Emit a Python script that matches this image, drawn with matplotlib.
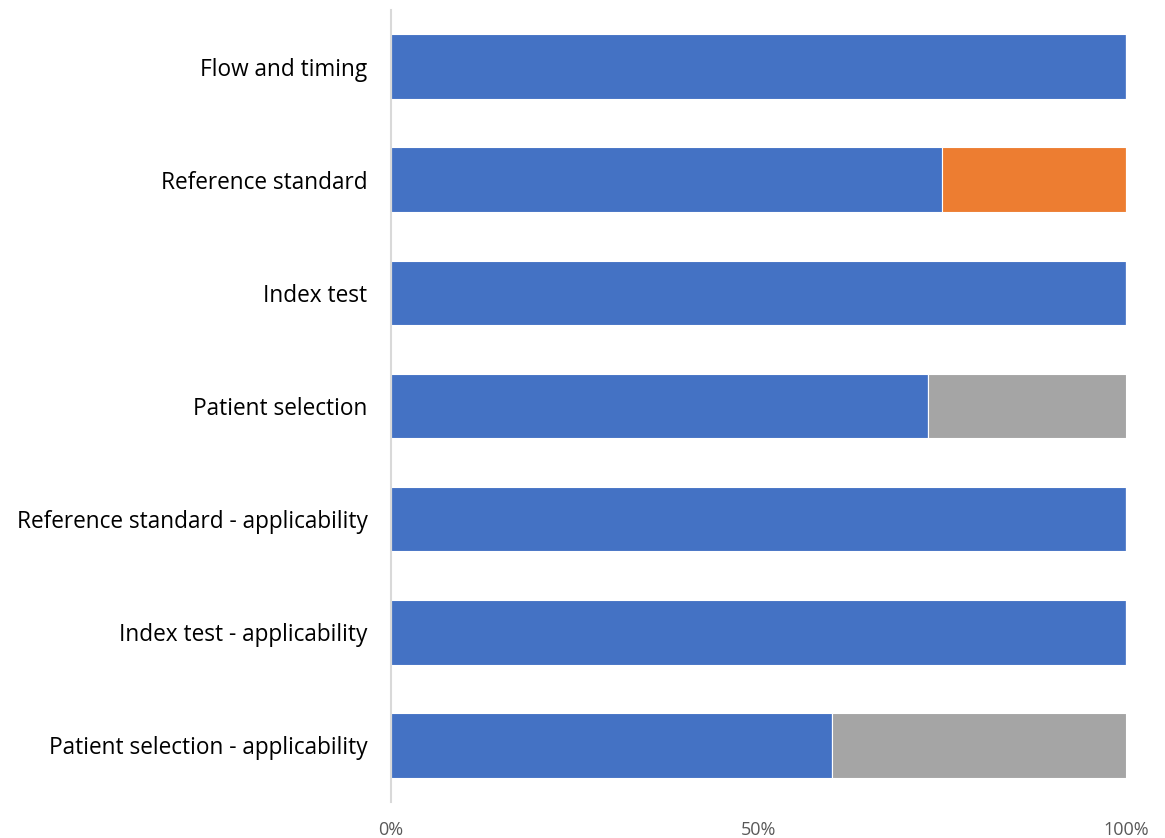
import numpy as np
import matplotlib.pyplot as plt

# QUADAS-2 domains, bottom to top
domains = ["Patient selection - applicability", "Index test - applicability",
           "Reference standard - applicability", "Patient selection",
           "Index test", "Reference standard", "Flow and timing"]
low_risk = [60, 100, 100, 73, 100, 75, 100]
high_risk = [0, 0, 0, 0, 0, 25, 0]
unclear = [40, 0, 0, 27, 0, 0, 0]

colors = ["#4472C4", "#ED7D31", "#A5A5A5"]

fig = plt.figure(figsize=(11.65, 8.38), dpi=100)
ax = fig.add_axes([391 / 1165, 36 / 838, 735 / 1165, 792 / 838])

y = np.arange(len(domains))
left = np.zeros(len(domains))
for vals, c in zip([low_risk, high_risk, unclear], colors):
    ax.barh(y, vals, left=left, height=0.57, color=c, edgecolor="white", linewidth=0.8)
    left += np.array(vals)

ax.set_xlim(0, 100)
ax.set_ylim(-0.5, len(domains) - 0.5)
ax.set_yticks(y)
ax.set_yticklabels(domains, fontsize=16.3, family="Open Sans", color="black")
ax.set_xticks([0, 50, 100])
ax.set_xticklabels(["0%", "50%", "100%"], fontsize=13, family="Open Sans", color="#595959")
ax.tick_params(length=0)
ax.tick_params(axis="y", pad=17)
ax.tick_params(axis="x", pad=14)

for side in ["top", "right", "bottom"]:
    ax.spines[side].set_visible(False)
ax.spines["left"].set_color("#D9D9D9")
ax.spines["left"].set_linewidth(1.5)

fig.savefig("out.png", dpi=100)
